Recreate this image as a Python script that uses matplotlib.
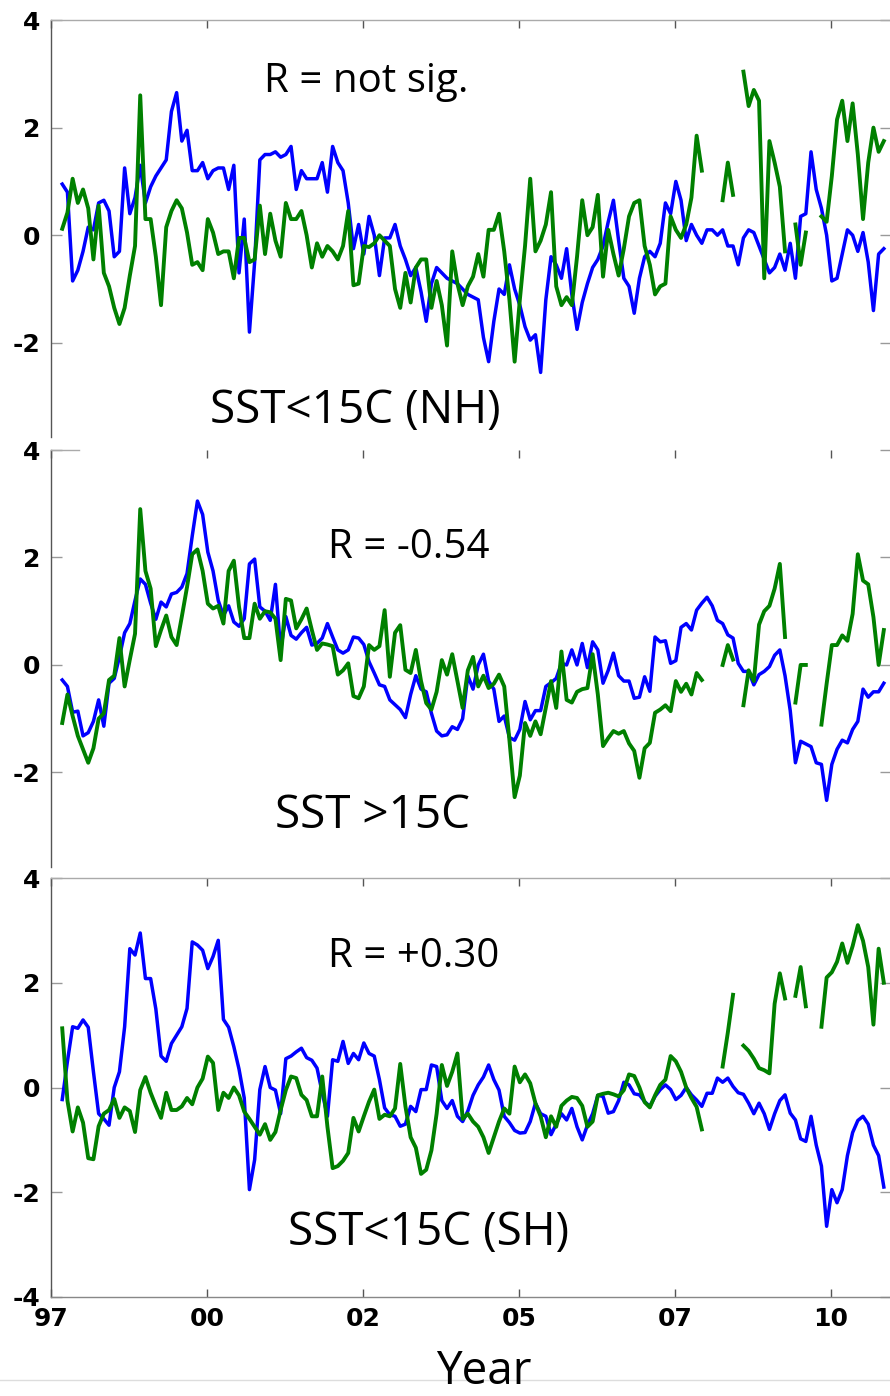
import numpy as np
import matplotlib
matplotlib.use("Agg")
import matplotlib.pyplot as plt
from matplotlib.lines import Line2D

plt.rcParams['axes.unicode_minus'] = False

# monthly time axis (Sep 1997 .. Nov 2010)
t = 1997.68 + np.arange(159) / 12.0
nan = np.nan

# x ticks (every 2.5 years) and their labels
xticks = [1997.5, 2000.0, 2002.5, 2005.0, 2007.5, 2010.0]
xlabels = ['97', '00', '02', '05', '07', '10']

# ---- panel 1: SST<15C (NH) ----
top_blue = [
    0.95, 0.8, -0.85, -0.65, -0.3, 0.15, 0.1, 0.6, 0.65, 0.45,
    -0.4, -0.3, 1.25, 0.4, 0.7, 1.3, 0.6, 0.9, 1.1, 1.25,
    1.4, 2.3, 2.65, 1.75, 1.95, 1.2, 1.2, 1.35, 1.05, 1.2,
    1.25, 1.25, 0.85, 1.3, -0.7, 0.3, -1.8, -0.5, 1.4, 1.5,
    1.5, 1.55, 1.45, 1.5, 1.65, 0.85, 1.2, 1.05, 1.05, 1.05,
    1.35, 0.8, 1.65, 1.35, 1.2, 0.6, -0.25, 0.2, -0.35, 0.35,
    0.0, -0.75, -0.05, -0.05, 0.2, -0.2, -0.45, -0.75, -0.6, -1.05,
    -1.6, -0.9, -0.6, -0.7, -0.8, -0.85, -0.9, -1.0, -1.1, -1.15,
    -1.2, -1.9, -2.35, -1.6, -1.0, -1.1, -0.55, -1.0, -1.3, -1.7,
    -1.95, -1.85, -2.55, -1.2, -0.4, -0.55, -0.8, -0.25, -1.1, -1.75,
    -1.25, -0.9, -0.6, -0.45, -0.2, 0.25, 0.65, -0.1, -0.8, -0.95,
    -1.45, -0.8, -0.4, -0.3, -0.4, -0.15, 0.6, 0.4, 1.0, 0.65,
    -0.1, 0.2, 0.0, -0.15, 0.1, 0.1, 0.0, 0.1, -0.2, -0.2,
    -0.55, -0.05, 0.1, 0.05, -0.2, -0.45, -0.7, -0.6, -0.35, -0.65,
    -0.15, -0.8, 0.35, 0.4, 1.55, 0.85, 0.5, 0.0, -0.85, -0.8,
    -0.35, 0.1, 0.0, -0.3, 0.05, -0.5, -1.4, -0.35, -0.25]
top_green = [
    0.12, 0.42, 1.05, 0.6, 0.85, 0.5, -0.45, 0.55, -0.7, -0.95,
    -1.35, -1.65, -1.35, -0.75, -0.2, 2.6, 0.3, 0.3, -0.4, -1.3,
    0.15, 0.45, 0.65, 0.5, 0.05, -0.55, -0.5, -0.65, 0.3, 0.05,
    -0.35, -0.3, -0.3, -0.8, -0.05, -0.05, -0.5, -0.45, 0.55, -0.35,
    0.4, -0.1, -0.4, 0.6, 0.3, 0.3, 0.45, 0.0, -0.6, -0.15,
    -0.4, -0.2, -0.3, -0.45, -0.2, 0.45, -0.93, -0.9, -0.2, -0.22,
    -0.15, 0.0, -0.1, -0.2, -1.0, -1.35, -0.7, -1.25, -0.6, -0.45,
    -0.45, -1.35, -0.85, -1.3, -2.05, -0.3, -0.9, -1.3, -0.95, -0.77,
    -0.35, -0.77, 0.1, 0.1, 0.4, -0.3, -1.2, -2.35, -1.2, -0.2,
    1.05, -0.3, -0.1, 0.2, 0.8, -0.95, -1.3, -1.15, -1.3, -0.4,
    0.65, 0.0, 0.15, 0.75, -0.77, 0.1, -0.35, -0.75, -0.25, 0.35,
    0.6, 0.65, -0.2, -0.55, -1.1, -0.95, -0.9, 0.35, 0.1, -0.05,
    0.2, 0.7, 1.85, 1.2, nan, nan, nan, 0.65, 1.35, 0.75,
    nan, 3.04, 2.4, 2.7, 2.5, -0.8, 1.75, 1.35, 0.9, -0.3,
    nan, 0.2, -0.55, 0.05, nan, nan, 0.35, 0.25, 1.1, 2.15,
    2.5, 1.75, 2.45, 1.5, 0.3, 1.35, 2.0, 1.55, 1.75]

# ---- panel 2: SST >15C ----
mid_blue = [
    -0.28, -0.4, -0.88, -0.86, -1.32, -1.26, -1.05, -0.65, -1.14, -0.34,
    -0.25, 0.15, 0.6, 0.77, 1.2, 1.6, 1.5, 1.15, 0.85, 1.17,
    1.08, 1.32, 1.35, 1.45, 1.7, 2.4, 3.05, 2.8, 2.1, 1.75,
    1.2, 0.92, 1.1, 0.8, 0.72, 0.86, 1.88, 1.97, 1.08, 1.0,
    0.83, 1.5, 0.28, 0.9, 0.55, 0.48, 0.6, 0.7, 0.37, 0.4,
    0.5, 0.77, 0.52, 0.28, 0.22, 0.28, 0.52, 0.5, 0.38, 0.06,
    -0.15, -0.37, -0.4, -0.65, -0.74, -0.83, -0.98, -0.55, -0.2, -0.45,
    -0.5, -0.9, -1.23, -1.32, -1.3, -1.15, -1.2, -1.0, -0.2, -0.45,
    0.0, 0.2, -0.3, -0.45, -1.05, -0.95, -1.35, -1.4, -1.2, -0.68,
    -1.02, -0.85, -0.85, -0.4, -0.33, -0.25, 0.03, 0.0, 0.28, 0.0,
    0.4, -0.05, 0.43, 0.28, -0.34, -0.1, 0.22, -0.2, -0.3, -0.3,
    -0.62, -0.6, -0.22, -0.49, 0.52, 0.43, 0.45, 0.03, 0.08, 0.7,
    0.77, 0.65, 1.02, 1.15, 1.26, 1.1, 0.83, 0.77, 0.56, 0.5,
    0.03, -0.12, -0.12, -0.37, -0.18, -0.12, -0.03, 0.18, 0.28, -0.2,
    -0.85, -1.82, -1.42, -1.47, -1.52, -1.82, -1.85, -2.52, -1.85, -1.57,
    -1.4, -1.45, -1.2, -1.05, -0.45, -0.6, -0.5, -0.5, -0.34]
mid_green = [
    -1.08, -0.55, -0.95, -1.32, -1.57, -1.82, -1.55, -1.0, -0.9, -0.28,
    -0.2, 0.5, -0.4, 0.1, 0.58, 2.9, 1.75, 1.42, 0.35, 0.65,
    0.92, 0.52, 0.37, 0.9, 1.45, 2.06, 2.15, 1.75, 1.14, 1.05,
    1.1, 0.77, 1.75, 1.94, 1.08, 0.5, 0.5, 1.14, 0.86, 1.0,
    0.98, 0.86, 0.09, 1.23, 1.2, 0.68, 0.85, 1.05, 0.65, 0.28,
    0.4, 0.38, 0.35, -0.18, -0.1, 0.03, -0.58, -0.62, -0.4, 0.37,
    0.28, 0.35, 1.02, -0.22, 0.6, 0.74, -0.09, -0.15, 0.28, -0.3,
    -0.71, -0.83, -0.5, 0.09, -0.18, 0.2, -0.3, -0.8, -0.1, 0.15,
    -0.4, -0.2, -0.43, -0.35, -0.18, -0.4, -1.4, -2.46, -2.06, -1.08,
    -1.32, -1.05, -1.29, -0.8, -0.3, -0.8, 0.25, -0.65, -0.7, -0.5,
    -0.45, -0.43, 0.2, -0.55, -1.51, -1.36, -1.23, -1.28, -1.23, -1.46,
    -1.6, -2.1, -1.55, -1.45, -0.89, -0.83, -0.75, -0.86, -0.3, -0.5,
    -0.35, -0.55, -0.15, -0.28, nan, nan, nan, 0.0, 0.37, 0.1,
    nan, -0.75, -0.1, -0.3, 0.75, 1.0, 1.1, 1.42, 1.88, 0.52,
    nan, -0.7, 0.0, 0.0, nan, nan, -1.11, -0.35, 0.37, 0.37,
    0.55, 0.45, 0.95, 2.06, 1.57, 1.5, 0.89, 0.0, 0.65]

# ---- panel 3: SST<15C (SH) ----
bot_blue = [
    -0.23, 0.5, 1.16, 1.13, 1.29, 1.15, 0.3, -0.5, -0.6, -0.72,
    0.0, 0.3, 1.16, 2.65, 2.53, 2.95, 2.08, 2.08, 1.5, 0.6,
    0.5, 0.84, 1.0, 1.16, 1.51, 2.78, 2.72, 2.62, 2.27, 2.5,
    2.81, 1.3, 1.15, 0.78, 0.35, -0.2, -1.95, -1.38, -0.04, 0.4,
    0.0, -0.05, -0.5, 0.55, 0.6, 0.68, 0.75, 0.57, 0.52, 0.37,
    -0.1, -0.55, 0.53, 0.5, 0.88, 0.46, 0.65, 0.53, 0.85, 0.65,
    0.6, 0.15, -0.39, -0.52, -0.55, -0.74, -0.7, -0.36, -0.46, -0.04,
    -0.04, 0.43, 0.4, -0.25, -0.4, -0.25, -0.55, -0.65, -0.45, -0.15,
    0.05, 0.2, 0.43, 0.15, -0.05, -0.55, -0.67, -0.82, -0.87, -0.86,
    -0.65, -0.3, -0.5, -0.55, -0.9, -0.7, -0.5, -0.62, -0.4, -0.75,
    -1.0, -0.72, -0.5, -0.15, -0.17, -0.49, -0.46, -0.25, 0.1, 0.05,
    -0.12, -0.14, -0.27, -0.36, -0.17, -0.04, 0.05, -0.04, -0.23, -0.15,
    0.0, -0.14, -0.24, -0.36, -0.11, -0.11, 0.18, 0.1, 0.18, 0.02,
    -0.1, -0.13, -0.3, -0.5, -0.3, -0.5, -0.8, -0.5, -0.25, -0.14,
    -0.49, -0.62, -0.98, -1.03, -0.55, -1.1, -1.5, -2.65, -1.95, -2.2,
    -1.95, -1.3, -0.86, -0.63, -0.55, -0.7, -1.1, -1.3, -1.9]
bot_green = [
    1.13, -0.25, -0.84, -0.38, -0.67, -1.35, -1.37, -0.74, -0.5, -0.43,
    -0.22, -0.58, -0.38, -0.45, -0.85, -0.05, 0.2, -0.1, -0.35, -0.58,
    -0.1, -0.43, -0.43, -0.36, -0.2, -0.32, 0.0, 0.17, 0.59, 0.47,
    -0.43, -0.1, -0.2, 0.0, -0.15, -0.46, -0.6, -0.75, -0.9, -0.7,
    -1.0, -0.85, -0.43, -0.05, 0.21, 0.18, -0.14, -0.24, -0.55, -0.55,
    0.21, -0.75, -1.54, -1.5, -1.4, -1.25, -0.58, -0.84, -0.55, -0.27,
    -0.04, -0.6, -0.52, -0.55, -0.4, 0.45, -0.36, -0.95, -1.15, -1.65,
    -1.57, -1.2, -0.5, 0.43, 0.03, 0.3, 0.65, -0.6, -0.5, -0.65,
    -0.75, -0.95, -1.25, -0.95, -0.65, -0.4, -0.5, 0.4, 0.1, 0.25,
    0.08, -0.3, -0.55, -0.95, -0.55, -0.75, -0.35, -0.25, -0.18, -0.2,
    -0.35, -0.75, -0.65, -0.15, -0.12, -0.1, -0.13, -0.17, -0.05, 0.25,
    0.22, 0.0, -0.28, -0.38, -0.15, 0.05, 0.15, 0.6, 0.5, 0.3,
    0.0, -0.2, -0.37, -0.8, nan, nan, nan, 0.4, 1.05, 1.77,
    nan, 0.8, 0.7, 0.55, 0.37, 0.33, 0.27, 1.6, 2.18, 1.7,
    nan, 1.75, 2.3, 1.55, nan, nan, 1.16, 2.1, 2.2, 2.4,
    2.75, 2.38, 2.7, 3.1, 2.8, 2.3, 1.2, 2.65, 2.0]

W, H = 890, 1396
BLUE = '#0000ff'
GREEN = '#008000'
TXT_FONT = ['Open Sans', 'DejaVu Sans']

fig = plt.figure(figsize=(W / 100, H / 100), dpi=100)


def make_axes(top_px, bot_px, ylo):
    ax = fig.add_axes([51 / W, 1 - bot_px / H, (891 - 51) / W, (bot_px - top_px) / H])
    ax.set_xlim(1997.5, 1997.5 + (891 - 51) / 62.4)
    ax.set_ylim(ylo, 4)
    ax.set_xticks(xticks)
    ax.set_yticks([v for v in [4, 2, 0, -2, -4] if v >= ylo])
    ax.tick_params(axis='y', direction='in', length=8, width=1, color='#999999',
                   left=True, right=True, labelsize=18, pad=8, labelcolor='black')
    ax.tick_params(axis='x', direction='in', length=6, width=1, color='#555555',
                   labelsize=18, pad=7)
    for lab in ax.get_xticklabels() + ax.get_yticklabels():
        lab.set_fontweight('bold')
    ax.spines['left'].set_color('#555555')
    ax.spines['top'].set_color('#aaaaaa')
    ax.spines['bottom'].set_color('#888888')
    for s in ax.spines.values():
        s.set_linewidth(1.0)
    return ax


ax1 = make_axes(20, 437, -3.75)
ax2 = make_axes(450, 867, -3.76)
ax3 = make_axes(878, 1297, -4.0)

# panels 1 and 2 are cut at the bottom
for ax in (ax1, ax2):
    ax.spines['bottom'].set_visible(False)
    ax.tick_params(axis='x', bottom=False, top=True, labelbottom=False)
ax2.spines['top'].set_bounds(1997.5, 1997.95)
ax3.tick_params(axis='x', bottom=True, top=True, labelbottom=True)
ax3.set_xticklabels(xlabels, fontweight='bold')

for ax, b, g in ((ax1, top_blue, top_green),
                 (ax2, mid_blue, mid_green),
                 (ax3, bot_blue, bot_green)):
    ax.plot(t, b, color=BLUE, lw=2.5, zorder=3)
    ax.plot(t, g, color=GREEN, lw=2.8, zorder=4)

ax1.text(2002.56, 2.66, 'R = not sig.', fontsize=29, family=TXT_FONT, ha='center', va='baseline')
ax1.text(2000.05, -3.49, 'SST<15C (NH)', fontsize=33, family=TXT_FONT, ha='left', va='baseline')
ax2.text(2001.94, 1.99, 'R = -0.54', fontsize=29, family=TXT_FONT, ha='left', va='baseline')
ax2.text(2001.09, -3.03, 'SST >15C', fontsize=33, family=TXT_FONT, ha='left', va='baseline')
ax3.text(2001.94, 2.31, 'R = +0.30', fontsize=29, family=TXT_FONT, ha='left', va='baseline')
ax3.text(2001.30, -3.0, 'SST<15C (SH)', fontsize=33, family=TXT_FONT, ha='left', va='baseline')

# faint line under the panels, then the axis title
fig.add_artist(Line2D([0, 1], [1 - 1380 / H, 1 - 1380 / H], transform=fig.transFigure,
                      color='#dddddd', lw=1))
fig.text(484 / W, 1 - 1395 / H, 'Year', fontsize=33, family=TXT_FONT, ha='center', va='bottom')

fig.savefig('out.png', dpi=100)
